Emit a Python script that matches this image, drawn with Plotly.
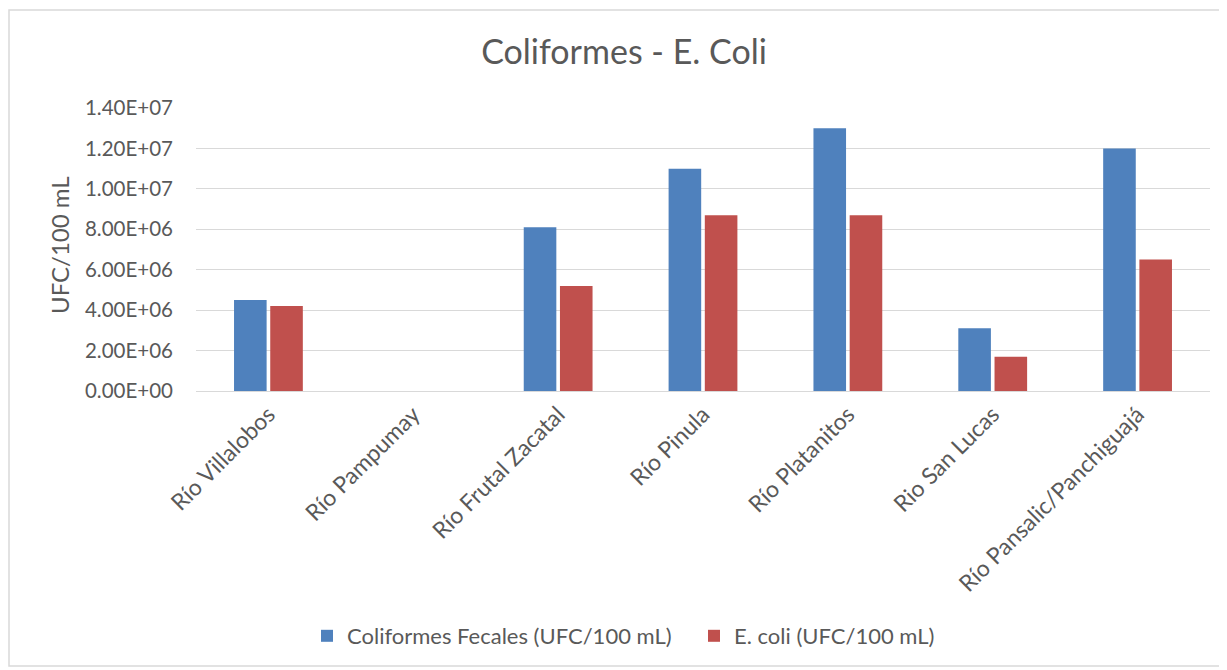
import plotly.graph_objects as go

categories = ["Río Villalobos", "Río Pampumay", "Río Frutal Zacatal", "Río Pinula",
              "Río Platanitos", "Rio San Lucas", "Río Pansalic/Panchiguajá"]
coliformes_fecales = [4.5e6, 0, 8.1e6, 1.1e7, 1.3e7, 3.1e6, 1.2e7]
e_coli = [4.2e6, 0, 5.2e6, 8.7e6, 8.7e6, 1.7e6, 6.5e6]
tick_vals = [0, 2e6, 4e6, 6e6, 8e6, 1e7, 1.2e7, 1.4e7]
tick_text = ["0.00E+00", "2.00E+06", "4.00E+06", "6.00E+06", "8.00E+06",
             "1.00E+07", "1.20E+07", "1.40E+07"]

W, H = 1227, 670
OFF = 8  # page body margin
# target plot area in page pixels
PL, PR, PT, PB = 196, 1210, 108, 391
L = PL - OFF
T = PT - OFF
R = W - (PR - OFF)
B = H - (PB - OFF)
pw, ph = W - L - R, H - T - B

def px(x):
    return (x - PL) / pw

def py(y):
    return (PB - y) / ph

font = "Lato, Calibri, Carlito, sans-serif"
grey = "#595959"

fig = go.Figure()
fig.add_trace(go.Bar(x=categories, y=coliformes_fecales, name="Coliformes Fecales (UFC/100 mL)",
                     marker=dict(color="#4F81BD", line=dict(width=0))))
fig.add_trace(go.Bar(x=categories, y=e_coli, name="E. coli (UFC/100 mL)",
                     marker=dict(color="#C0504D", line=dict(width=0))))

fig.update_layout(
    width=W, height=H,
    margin=dict(l=L, r=R, t=T, b=B),
    paper_bgcolor="white", plot_bgcolor="white",
    barmode="group", bargap=0.5, bargroupgap=0.1,
    font=dict(family=font, color=grey, size=21),
    title=dict(text="Coliformes - E. Coli", x=(624 - OFF) / W, xanchor="center",
               y=1 - (52 - OFF) / H, yanchor="middle", yref="container",
               font=dict(size=34, color=grey, family=font)),
    showlegend=True,
    legend=dict(orientation="h", x=px(307), xanchor="left", y=py(636), yanchor="middle",
                font=dict(size=22, color=grey, family=font), itemwidth=30,
                entrywidth=342, traceorder="normal"),
    xaxis=dict(tickangle=-45, showgrid=False, showline=True, linecolor="#d9d9d9", linewidth=1,
               ticks="", tickfont=dict(size=23, color=grey, family=font)),
    yaxis=dict(range=[0, 1.4e7], tickvals=tick_vals, ticktext=tick_text,
               showgrid=True, gridcolor="#d9d9d9", gridwidth=1, zeroline=False,
               showline=False, ticks="", ticklabelstandoff=22,
               tickfont=dict(size=20.5, color=grey, family=font)),
    annotations=[dict(text="UFC/100 mL", xref="paper", yref="paper", x=px(59), y=py(245),
                      textangle=-90, showarrow=False, xanchor="center", yanchor="middle",
                      font=dict(size=24, color=grey, family=font))],
    shapes=[dict(type="rect", xref="paper", yref="paper", x0=px(9), x1=px(1224),
                 y0=py(666), y1=py(10), line=dict(color="#d9d9d9", width=1.5),
                 fillcolor="rgba(0,0,0,0)", layer="below")],
)

fig.write_html("out.html")
